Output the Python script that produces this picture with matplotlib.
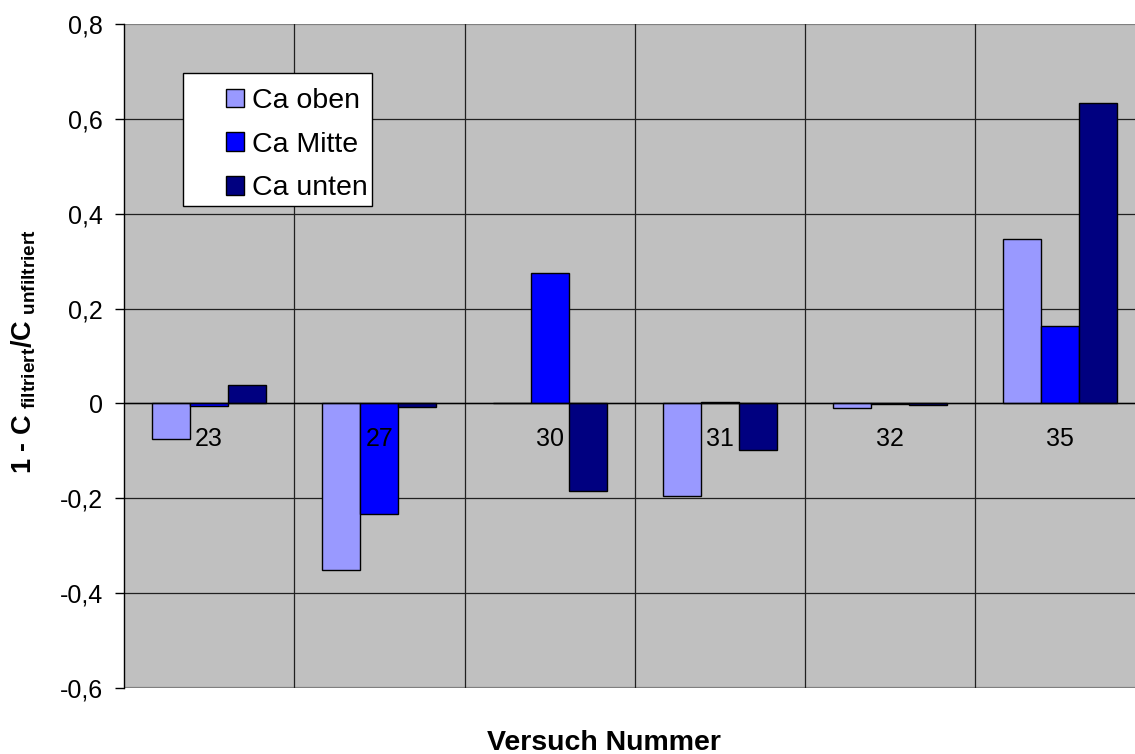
import numpy as np
import matplotlib.pyplot as plt
from matplotlib.patches import Rectangle
from matplotlib.transforms import offset_copy

plt.rcParams['font.family'] = ['Liberation Sans', 'DejaVu Sans']
plt.rcParams['mathtext.fontset'] = 'custom'
plt.rcParams['mathtext.rm'] = 'Liberation Sans:bold'
plt.rcParams['mathtext.bf'] = 'Liberation Sans:bold'

versuche = ['23', '27', '30', '31', '32', '35']
ca_oben = [-0.076, -0.352, 0.0, -0.196, -0.009, 0.347]
ca_mitte = [-0.005, -0.234, 0.276, 0.004, -0.002, 0.164]
ca_unten = [0.038, -0.007, -0.185, -0.099, -0.003, 0.634]
y_ticks = [-0.6, -0.4, -0.2, 0.0, 0.2, 0.4, 0.6, 0.8]

W, H = 1135, 754
fig = plt.figure(figsize=(W / 100, H / 100), dpi=100)
ax = fig.add_axes([124 / W, 1 - 688 / H, 1021.5 / W, 664 / H])
ax.set_facecolor('#C0C0C0')

x = np.arange(len(versuche))
bw = 0.223
series = [(ca_oben, '#9999FF', 'Ca oben'),
          (ca_mitte, '#0000FF', 'Ca Mitte'),
          (ca_unten, '#000080', 'Ca unten')]
for k, (vals, col, name) in enumerate(series):
    ax.bar(x + (k - 1) * bw, vals, bw, color=col, edgecolor='black',
           linewidth=1, label=name, zorder=3)

ax.set_xlim(-0.5, len(versuche) - 0.5)
ax.set_ylim(-0.6, 0.8)

# gridlines: dark inside, grey frame lines at top/bottom
for v in y_ticks[1:-1]:
    ax.axhline(v, color='#202020', lw=0.9, zorder=1)
ax.axhline(0, color='black', lw=1, zorder=4)
ax.axhline(0.8, color='#808080', lw=1.6, zorder=1)
ax.axhline(-0.6, color='#808080', lw=1.6, zorder=1)
for b in np.arange(0.5, len(versuche) - 0.5, 1):
    ax.axvline(b, color='#202020', lw=0.9, zorder=1)

for s in ['top', 'right', 'bottom']:
    ax.spines[s].set_visible(False)
ax.spines['left'].set_color('black')
ax.spines['left'].set_linewidth(1)

ax.set_xticks([])
ax.set_yticks(y_ticks)
ax.set_yticklabels(['0' if abs(v) < 1e-9 else f'{v:.1f}'.replace('.', ',')
                    for v in y_ticks], fontsize=18)
ax.tick_params(axis='y', length=6.5, width=1, pad=8.5, color='black')

# category labels sit just under the zero line
lab_tr = offset_copy(ax.transData, fig=fig, y=-17, units='points')
for xi, name in zip(x, versuche):
    ax.text(xi, 0, name, ha='center', va='top', fontsize=18,
            transform=lab_tr, zorder=5)

fig.text(24 / W, 1 - 352 / H,
         r'$\text{1 - C}_{\ \text{filtriert}}\text{/C}_{\ \text{unfiltriert}}$',
         rotation=90, ha='center', va='center', fontsize=19.5)
fig.text(604 / W, 1 - 750 / H, 'Versuch Nummer', ha='center', va='baseline',
         fontsize=20.5, fontweight='bold')

# legend box
ax.add_patch(Rectangle((183 / W, 1 - 206 / H), 189 / W, 133 / H,
                       transform=fig.transFigure, facecolor='white',
                       edgecolor='black', lw=1, zorder=6, clip_on=False))
leg = ax.legend(loc='upper left', bbox_to_anchor=(226 / W, 1 - 88 / H),
                bbox_transform=fig.transFigure, frameon=False, fontsize=20.5,
                borderpad=0, borderaxespad=0, handlelength=0.63,
                handleheight=0.63, handletextpad=0.28, labelspacing=0.62)
leg.set_zorder(7)

fig.savefig('out.png', dpi=100)
